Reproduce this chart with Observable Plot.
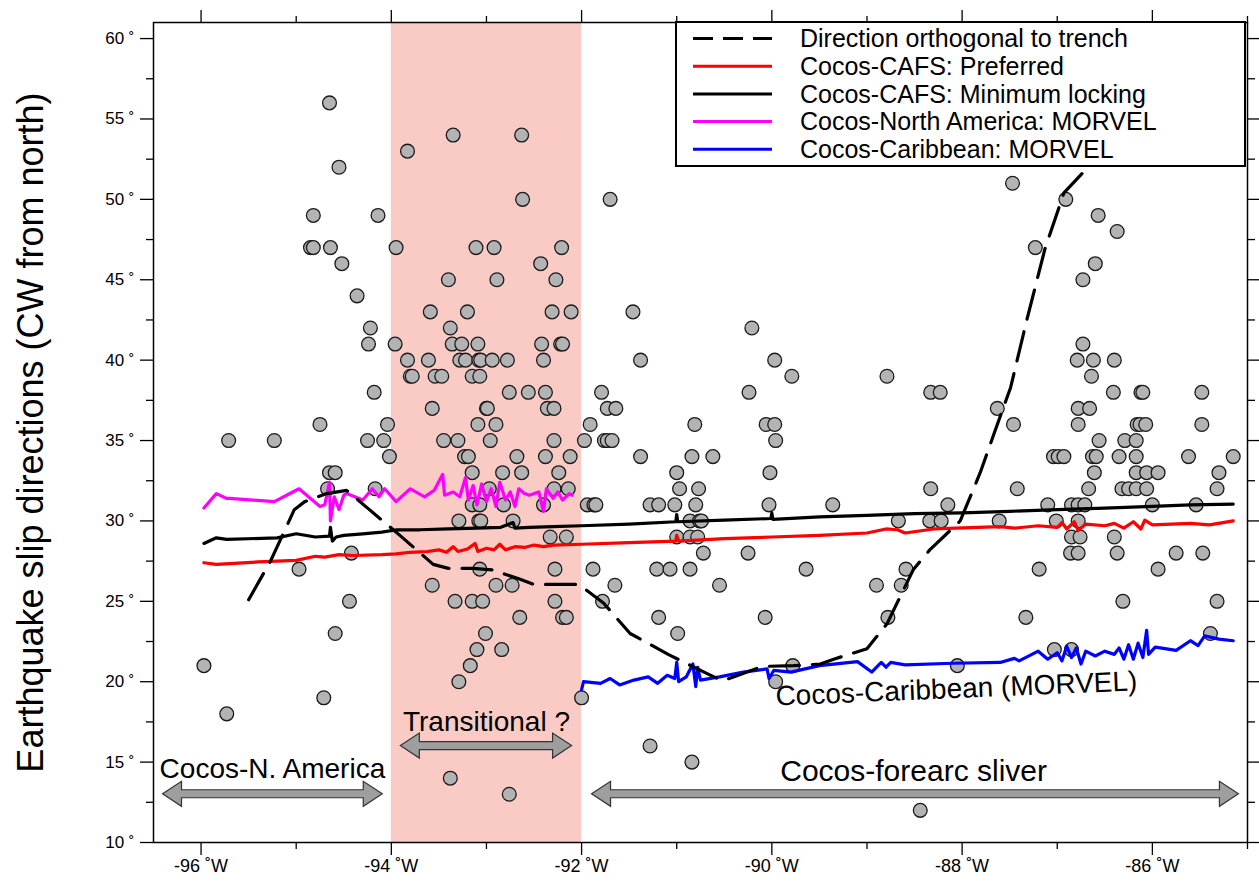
<!DOCTYPE html>
<html><head><meta charset="utf-8">
<script src="https://cdn.jsdelivr.net/npm/d3@7"></script>
<script src="https://cdn.jsdelivr.net/npm/@observablehq/plot@0.6"></script>
<style>body{margin:0;background:#fff} #chart{width:1259px;height:885px}</style>
</head><body><div id="chart"></div>
<script>
// ---------------- data ----------------
const xMajor = [-96, -94, -92, -90, -88, -86];
const xMinor = [-95, -93, -91, -89, -87, -85];
const yMajor = [10, 15, 20, 25, 30, 35, 40, 45, 50, 55, 60];
const yMinor = [12.5, 17.5, 22.5, 27.5, 32.5, 37.5, 42.5, 47.5, 52.5, 57.5];
const transitionalBand = [[-94, -92]];

// earthquake slip directions [longitude, azimuth]
const quakes = [
 [-94.65,56],[-93.83,53],[-94.55,52],[-94.82,49],[-94.14,49],[-94.85,47],[-94.82,47],[-94.64,47],[-93.95,47],[-94.52,46],
 [-94.36,44],[-94.22,42],[-94.24,41],[-93.96,41],[-93.83,40],[-93.80,39],[-94.18,38],[-94.75,36],[-94.04,36],[-95.71,35],
 [-95.23,35],[-94.25,35],[-94.08,35],[-94.02,34],[-94.65,33],[-94.59,33],[-94.67,32],[-94.17,32],[-94.42,28],[-94.97,27],
 [-94.44,25],[-94.59,23],[-95.97,21],[-94.71,19],[-95.73,18],
 [-93.35,54],[-92.63,54],[-92.62,50],[-93.11,47],[-92.92,47],[-92.21,47],[-92.43,46],[-93.40,45],[-92.89,45],[-92.27,45],
 [-93.59,43],[-93.20,43],[-92.31,43],[-92.11,43],[-93.38,42],
 [-93.36,41],[-93.26,41],[-93.09,41],[-92.42,41],[-92.22,41],[-92.20,41],
 [-93.61,40],[-93.28,40],[-93.22,40],[-93.08,40],[-93.06,40],[-92.94,40],[-92.78,40],[-92.40,40],
 [-93.78,39],[-93.54,39],[-93.47,39],[-93.15,39],[-93.07,39],
 [-92.76,38],[-92.56,38],[-92.38,38],
 [-93.57,37],[-93.00,37],[-92.99,37],[-92.36,37],[-92.29,37],
 [-93.09,36],[-92.90,36],
 [-93.45,35],[-93.30,35],[-92.96,35],[-92.29,35],
 [-93.23,34],[-93.19,34],[-92.68,34],[-92.38,34],[-92.12,34],
 [-93.15,33],[-92.83,33],[-92.63,33],[-92.24,33],
 [-92.97,32],[-92.29,32],[-92.14,32],
 [-93.15,31],[-93.07,31],[-92.82,31],[-92.40,31],
 [-93.29,30],[-93.08,30],[-93.06,30],[-92.72,30],
 [-92.33,29],[-92.16,29],
 [-93.07,27],[-92.28,27],
 [-93.57,26],[-92.90,26],[-92.73,26],
 [-93.33,25],[-93.15,25],[-93.04,25],[-92.28,25],
 [-92.65,24],[-92.20,24],[-92.16,24],
 [-93.01,23],[-93.10,22],[-92.84,22],[-93.17,21],[-93.29,20],[-92.00,19],[-93.38,14],[-92.76,13],
 [-91.70,50],[-91.46,43],[-90.21,42],[-91.38,40],[-89.97,40],[-89.79,39],[-88.79,39],[-91.79,38],[-90.24,38],
 [-91.73,37],[-91.64,37],[-91.91,36],[-90.81,36],[-90.06,36],[-89.97,36],
 [-91.97,35],[-91.76,35],[-91.73,35],[-91.68,35],[-89.96,35],
 [-91.38,34],[-90.84,34],[-90.62,34],[-91.00,33],[-90.02,33],
 [-90.97,32],[-90.77,32],
 [-91.94,31],[-91.87,31],[-91.85,31],[-91.28,31],[-91.19,31],[-91.02,31],[-90.80,31],[-90.03,31],[-89.36,31],
 [-90.86,30],[-90.76,30],[-90.74,30],[-88.67,30],
 [-91.00,29],[-90.86,29],[-90.78,29],
 [-90.72,28],[-90.25,28],
 [-91.88,27],[-91.21,27],[-91.07,27],[-90.86,27],[-89.64,27],[-88.59,27],
 [-91.65,26],[-90.55,26],[-88.90,26],[-88.64,26],
 [-91.78,25],[-91.19,24],[-90.07,24],[-88.78,24],[-90.99,23],[-89.78,21],[-89.96,20],
 [-91.28,16],[-90.84,15],[-88.44,12],
 [-87.47,51],[-86.91,50],[-86.57,49],[-86.37,48],[-87.23,47],[-86.60,46],[-86.73,45],
 [-86.73,41],[-86.79,40],[-86.62,40],[-86.40,40],[-86.64,39],
 [-88.33,38],[-88.23,38],[-86.41,38],[-86.12,38],[-86.10,38],[-85.48,38],
 [-87.63,37],[-86.78,37],[-86.66,37],
 [-87.46,36],[-86.78,36],[-86.16,36],[-86.13,36],[-86.07,36],[-85.48,36],
 [-86.56,35],[-86.29,35],[-86.17,35],
 [-87.04,34],[-86.99,34],[-86.93,34],[-86.63,34],[-86.59,34],[-86.35,34],[-86.17,34],[-85.62,34],[-85.15,34],
 [-86.61,33],[-86.17,33],[-86.06,33],[-85.94,33],[-85.30,33],
 [-88.33,32],[-87.42,32],[-86.67,32],[-86.32,32],[-86.25,32],[-86.17,32],[-86.06,32],[-85.32,32],
 [-88.15,31],[-87.10,31],[-86.85,31],[-86.78,31],[-86.71,31],[-86.00,31],[-85.54,31],
 [-88.34,30],[-88.22,30],[-87.61,30],[-87.01,30],[-86.78,30],
 [-86.85,29],[-86.76,29],[-86.40,29],
 [-86.86,28],[-86.78,28],[-86.37,28],[-85.75,28],[-85.47,28],
 [-87.19,27],[-85.94,27],
 [-86.31,25],[-85.32,25],[-87.33,24],[-85.39,23],[-87.03,22],[-86.85,22],[-88.05,21]
];

// direction orthogonal to trench
const trench = [
 [-95.50,25.1],[-95.27,27.5],[-95.02,30.7],[-94.91,31.2],[-94.68,31.7],[-94.47,31.9],[-94.24,30.75],[-93.91,29.1],
 [-93.56,27.3],[-93.40,27.05],[-93.14,27.05],[-92.94,26.95],[-92.66,26.4],[-92.50,26.05],[-92.03,26.05],[-91.77,24.9],
 [-91.49,23.0],[-91.09,21.7],[-90.68,20.5],[-90.52,20.05],[-90.26,20.6],[-90.10,20.95],[-89.77,21.0],[-89.49,21.1],
 [-89.35,21.4],[-89.00,22.05],[-88.79,23.6],[-88.51,27.0],[-88.34,28.2],[-88.02,30.0],[-87.81,33.0],[-87.63,36.0],
 [-87.49,38.3],[-87.32,42.5],[-87.13,46.9],[-86.93,50.4],[-86.74,51.6]
];

// Cocos-CAFS: preferred
const cafsPreferred = [
 [-95.97,27.4],[-95.84,27.3],[-95.40,27.45],[-95.00,27.55],[-94.80,27.8],[-94.70,27.75],[-94.55,27.9],[-94.40,27.85],
 [-94.10,27.9],[-93.95,27.95],[-93.80,28.05],[-93.62,28.1],[-93.50,28.2],[-93.42,28.05],[-93.35,28.4],[-93.30,28.1],
 [-93.20,28.25],[-93.12,28.6],[-93.09,28.1],[-93.00,28.3],[-92.92,28.2],[-92.86,28.55],[-92.80,28.2],[-92.70,28.4],
 [-92.60,28.35],[-92.50,28.5],[-92.40,28.4],[-92.30,28.5],[-92.00,28.55],[-91.50,28.65],[-91.01,28.75],[-91.00,29.1],
 [-90.98,28.75],[-90.50,28.9],[-90.00,29.0],[-89.50,29.1],[-89.00,29.25],[-88.80,29.5],[-88.68,29.45],[-88.60,29.25],
 [-88.30,29.5],[-87.60,29.65],[-87.45,29.55],[-87.20,29.7],[-87.00,29.6],[-86.95,29.9],[-86.90,29.5],[-86.82,29.95],
 [-86.78,29.4],[-86.70,29.8],[-86.50,29.7],[-86.40,29.85],[-86.30,29.55],[-86.20,29.95],[-86.12,29.5],[-86.08,30.05],
 [-86.00,29.75],[-85.60,29.85],[-85.40,29.75],[-85.15,30.0]
];

// Cocos-CAFS: minimum locking
const cafsMinLocking = [
 [-95.97,28.6],[-95.84,28.95],[-95.73,28.85],[-95.20,28.95],[-95.00,29.2],[-94.80,29.0],[-94.65,29.05],[-94.64,29.6],
 [-94.62,28.75],[-94.58,29.0],[-94.50,29.1],[-94.30,29.2],[-94.10,29.3],[-93.94,29.45],[-93.70,29.45],[-93.40,29.5],
 [-93.10,29.55],[-92.85,29.6],[-92.72,29.9],[-92.70,29.55],[-92.55,29.6],[-92.30,29.65],[-92.00,29.7],[-91.50,29.8],
 [-91.01,29.95],[-91.00,30.4],[-90.99,29.95],[-90.50,30.05],[-90.01,30.15],[-90.00,30.5],[-89.99,30.1],[-89.50,30.25],
 [-89.00,30.35],[-88.50,30.45],[-88.00,30.5],[-87.50,30.6],[-87.00,30.7],[-86.50,30.8],[-86.00,30.9],[-85.60,31.0],
 [-85.15,31.05]
];

// Cocos-North America: MORVEL
const cocosNorthAmerica = [
 [-95.97,30.8],[-95.84,31.7],[-95.73,31.4],[-95.70,31.4],[-95.23,31.2],[-94.97,32.0],[-94.75,30.9],[-94.70,31.0],
 [-94.65,32.4],[-94.64,30.0],[-94.60,31.5],[-94.55,30.7],[-94.50,31.6],[-94.47,31.7],[-94.30,31.3],[-94.20,32.0],
 [-94.13,31.5],[-94.07,32.0],[-93.95,31.2],[-93.80,32.0],[-93.65,31.5],[-93.55,31.9],[-93.46,32.9],[-93.44,31.6],
 [-93.35,31.8],[-93.28,31.5],[-93.22,32.7],[-93.19,31.3],[-93.14,32.2],[-93.10,31.0],[-93.05,32.3],[-93.00,31.2],
 [-92.95,32.0],[-92.90,30.9],[-92.86,32.4],[-92.80,31.3],[-92.75,31.8],[-92.70,30.9],[-92.66,32.0],[-92.60,31.7],
 [-92.55,31.6],[-92.45,31.8],[-92.40,30.6],[-92.37,32.0],[-92.30,31.4],[-92.25,31.8],[-92.20,31.3],[-92.13,31.7],
 [-92.10,31.6]
];

// Cocos-Caribbean: MORVEL
const cocosCaribbean = [
 [-92.00,19.5],[-91.98,20.0],[-91.80,19.9],[-91.70,20.2],[-91.60,19.8],[-91.45,20.1],[-91.30,20.3],[-91.20,19.9],
 [-91.10,20.4],[-91.02,20.2],[-91.00,21.2],[-90.98,20.0],[-90.90,20.3],[-90.83,21.1],[-90.80,19.7],[-90.78,20.9],
 [-90.75,20.1],[-90.55,20.3],[-90.30,20.6],[-90.05,20.8],[-90.03,20.2],[-89.98,20.7],[-89.80,20.6],[-89.50,21.0],
 [-89.10,21.25],[-88.95,20.6],[-88.85,21.2],[-88.80,20.9],[-88.75,21.2],[-88.60,21.05],[-88.10,21.15],[-87.60,21.2],
 [-87.45,21.45],[-87.40,21.3],[-87.20,21.9],[-87.10,21.4],[-87.00,21.8],[-86.95,21.3],[-86.90,22.2],[-86.85,21.5],
 [-86.80,22.1],[-86.75,21.1],[-86.70,21.9],[-86.60,21.6],[-86.50,21.9],[-86.40,21.7],[-86.35,22.1],[-86.30,21.4],
 [-86.25,22.3],[-86.20,21.4],[-86.15,22.4],[-86.10,21.5],[-86.06,23.2],[-86.04,21.7],[-85.97,22.15],[-85.75,21.95],
 [-85.60,22.55],[-85.52,22.25],[-85.45,22.85],[-85.30,22.65],[-85.15,22.55]
];

// region arrows: start lon, end lon, azimuth level
const arrowStart = [-96.40, -93.90, -91.89];
const arrowEnd = [-94.09, -92.10, -85.09];
const arrowLevel = [13, 16, 13];

// text annotations
const annoText = ["Cocos-N. America", "Transitional ?", "Cocos-forearc sliver", "Cocos-Caribbean (MORVEL)"];
const annoLon = [-95.25, -93.00, -88.51, -88.06];
const annoDir = [14.6, 17.5, 14.4, 19.55];
const annoRotate = [0, 0, 0, -2.4];
const annoSize = [28, 28, 30, 28];

const legendLabels = ["Direction orthogonal to trench", "Cocos-CAFS: Preferred", "Cocos-CAFS: Minimum locking",
  "Cocos-North America: MORVEL", "Cocos-Caribbean: MORVEL"];
const legendColors = ["black", "red", "black", "magenta", "blue"];

const yTitle = "Earthquake slip directions (CW from north)";

// ---------------- chart ----------------
const font = "'Liberation Sans', Arial, Helvetica, sans-serif";
const lx = d => d[0], ly = d => d[1];

const plot = Plot.plot({
  width: 1259, height: 885,
  marginLeft: 153, marginRight: 12, marginTop: 22, marginBottom: 43,
  x: {domain: [-96.5, -85]},
  y: {domain: [10, 61]},
  style: {fontFamily: font, background: "white", color: "black"},
  marks: [
    Plot.rect(transitionalBand, {x1: d => d[0], x2: d => d[1], fill: "#f9cbc4"}),
    Plot.axisX({ticks: xMajor, tickSize: 13, tickPadding: 4, tickFormat: d => `${d} ˚W`, fontSize: 18, label: null, strokeWidth: 1.3}),
    Plot.axisX({ticks: xMinor, tickSize: 7, tickFormat: () => "", label: null, strokeWidth: 1.3}),
    Plot.axisX({anchor: "top", ticks: xMajor, tickSize: 13, tickFormat: () => "", label: null, strokeWidth: 1.3}),
    Plot.axisX({anchor: "top", ticks: xMinor, tickSize: 7, tickFormat: () => "", label: null, strokeWidth: 1.3}),
    Plot.axisY({ticks: yMajor, tickSize: 13, tickPadding: 6, tickFormat: d => `${d} ˚`, fontSize: 17, label: null, strokeWidth: 1.3}),
    Plot.axisY({ticks: yMinor, tickSize: 7, tickFormat: () => "", label: null, strokeWidth: 1.3}),
    Plot.axisY({anchor: "right", ticks: yMajor, tickSize: 13, tickFormat: () => "", label: null, strokeWidth: 1.3}),
    Plot.axisY({anchor: "right", ticks: yMinor, tickSize: 7, tickFormat: () => "", label: null, strokeWidth: 1.3}),
    Plot.dot(quakes, {x: lx, y: ly, r: 6.9, fill: "#b3b3b3", stroke: "#1a1a1a", strokeWidth: 1.3}),
    Plot.line(cafsPreferred, {x: lx, y: ly, stroke: "red", strokeWidth: 3.2}),
    Plot.line(cafsMinLocking, {x: lx, y: ly, stroke: "black", strokeWidth: 3.2}),
    Plot.line(cocosNorthAmerica, {x: lx, y: ly, stroke: "magenta", strokeWidth: 3.2}),
    Plot.line(cocosCaribbean, {x: lx, y: ly, stroke: "blue", strokeWidth: 3.2}),
    Plot.line(trench, {x: lx, y: ly, stroke: "black", strokeWidth: 3.2, strokeDasharray: "30,13"}),
    Plot.text(annoText, {x: (d, i) => annoLon[i], y: (d, i) => annoDir[i], rotate: (d, i) => annoRotate[i], text: d => d, fontSize: (d, i) => annoSize[i], fill: "black"}),
    Plot.text([yTitle], {frameAnchor: "left", textAnchor: "middle", dx: -122, rotate: -90, text: d => d, fontSize: 36, fill: "black"}),
    Plot.frame({stroke: "black", strokeWidth: 1.5})
  ]
});
document.getElementById("chart").append(plot);

// block arrows (positioned through the plot's scales)
const sx = plot.scale("x"), sy = plot.scale("y");
const svg = d3.select(plot);
const gA = svg.append("g");
arrowStart.forEach((a, i) => {
  const x1 = sx.apply(a), x2 = sx.apply(arrowEnd[i]), y = sy.apply(arrowLevel[i]);
  const h = 4, H = 12.5, L = 19;
  gA.append("path")
    .attr("d", `M${x1},${y}L${x1+L},${y-H}L${x1+L},${y-h}L${x2-L},${y-h}L${x2-L},${y-H}L${x2},${y}L${x2-L},${y+H}L${x2-L},${y+h}L${x1+L},${y+h}L${x1+L},${y+H}Z`)
    .attr("fill", "#9e9e9e").attr("stroke", "#333").attr("stroke-width", 1.2);
});

// legend box
const gL = svg.append("g").attr("font-family", font).attr("text-anchor", "start");
gL.append("rect").attr("x", 676).attr("y", 22).attr("width", 569).attr("height", 144)
  .attr("fill", "white").attr("stroke", "black").attr("stroke-width", 2);
legendLabels.forEach((lab, i) => {
  const y = 38.5 + i * 27.7;
  gL.append("line").attr("x1", 693).attr("x2", 772).attr("y1", y).attr("y2", y)
    .attr("stroke", legendColors[i]).attr("stroke-width", 3)
    .attr("stroke-dasharray", i === 0 ? "20,10" : null);
  gL.append("text").attr("x", 800).attr("y", y).attr("dy", "0.35em").attr("text-anchor", "start")
    .attr("font-size", 25).attr("fill", "black").text(lab);
});
</script>
</body></html>
